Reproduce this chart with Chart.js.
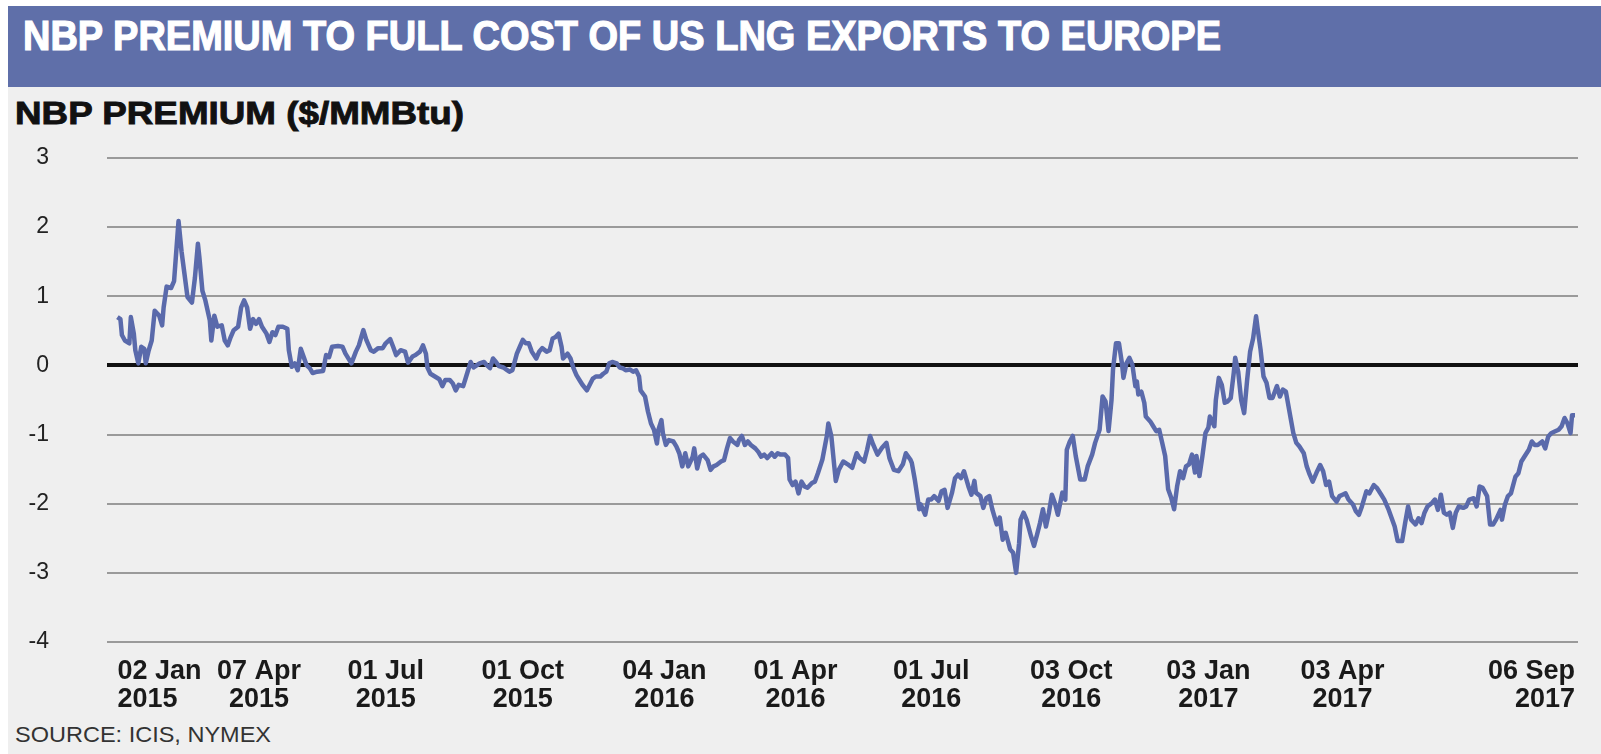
<!DOCTYPE html>
<html>
<head>
<meta charset="utf-8">
<script src="https://cdn.jsdelivr.net/npm/chart.js@4.4.1/dist/chart.umd.min.js"></script>
<style>
  body { margin: 0; background: #fff; width: 1601px; height: 754px; overflow: hidden; font-family: "Liberation Sans", Arial, sans-serif; }
  #panel { position: absolute; left: 8px; top: 6px; width: 1593px; height: 748px; background: #efefef; }
  #band { position: absolute; left: 8px; top: 6px; width: 1593px; height: 81px; background: #5f6fa9; }
  .fit { position: absolute; white-space: nowrap; line-height: 1; transform-origin: 0 0; }
  #title { left: 23px; top: 15px; font-size: 42px; font-weight: bold; color: #fff; -webkit-text-stroke: 1.2px #fff; }
  #ytitle { left: 15px; top: 97px; font-size: 32px; font-weight: bold; color: #111; -webkit-text-stroke: 0.9px #111; }
  #source { left: 15px; top: 724px; font-size: 22px; color: #333; }
  #chart { position: absolute; left: 0; top: 0; }
</style>
</head>
<body>
<div id="panel"></div>
<div id="band"></div>
<div id="title" class="fit" data-w="1198">NBP PREMIUM TO FULL COST OF US LNG EXPORTS TO EUROPE</div>
<div id="ytitle" class="fit" data-w="449">NBP PREMIUM ($/MMBtu)</div>
<div id="source" class="fit" data-w="256">SOURCE: ICIS, NYMEX</div>
<canvas id="chart" width="1601" height="754"></canvas>

<script>
/* ---------------- DATA ---------------- */
// days after 02 Jan 2015
const days = [
  0,2,3,5,8,9,11,12,14,16,18,19,21,23,25,28,30,31,33,36,38,39,41,43,45,47,50,52,54,55,
  57,59,62,63,65,67,70,72,74,76,78,81,83,85,87,89,91,93,95,97,100,102,104,106,108,111,114,115,117,119,
  121,123,125,127,129,131,134,138,140,142,144,148,151,153,
  157,160,162,165,167,170,172,175,178,180,183,185,187,190,193,195,198,200,203,205,
  207,208,210,213,216,218,220,223,225,227,229,232,234,237,239,241,243,246,248,250,
  252,254,256,259,261,263,265,268,270,272,274,276,278,281,283,285,288,290,292,294,
  296,298,299,302,304,306,308,310,312,315,
  319,321,324,326,328,330,332,335,337,339,341,344,346,348,350,351,354,356,358,360,
  362,363,365,366,368,370,373,375,377,379,381,383,386,387,389,391,393,396,398,400,
  402,405,407,409,411,413,416,417,419,421,423,425,428,430,432,434,436,439,441,443,
  445,448,450,451,453,455,457,459,461,463,466,468,470,
  473,476,477,479,481,482,484,487,490,493,496,498,501,503,505,507,510,513,516,518,
  521,524,527,529,532,533,535,538,539,542,544,546,548,551,553,555,557,560,562,564,
  566,568,571,573,575,576,579,581,583,585,587,590,592,594,596,599,601,603,605,606,
  608,610,613,615,617,619,621,623,625,627,629,631,
  634,636,637,639,641,643,646,649,651,654,656,659,661,663,665,667,668,670,672,674,
  675,677,679,681,683,684,685,687,689,690,693,695,697,699,701,703,705,707,709,711,
  713,715,717,719,721,723,724,726,728,730,732,733,736,737,739,741,743,745,747,749,
  750,752,754,756,758,760,762,764,765,767,769,771,773,775,778,780,782,784,787,789,791,
  793,796,798,800,802,805,807,809,811,813,815,818,820,822,824,826,829,831,833,835,
  838,840,843,845,848,850,853,855,857,859,862,864,866,868,871,873,875,877,879,882,
  884,886,888,890,892,894,896,898,900,903,905,907,910,912,914,916,919,921,923,925,
  928,929,931,933,935,938,940,942,944,947,949,951,953,956,958,960,962,964,967,969,
  971,973,975,976,978
];

// NBP premium, $/MMBtu
const premium = [
  0.70,0.67,0.44,0.36,0.32,0.70,0.46,0.22,0.03,0.27,0.24,0.03,0.22,0.36,0.79,0.72,0.58,0.84,1.14,1.12,
  1.22,1.51,2.09,1.65,1.32,0.99,0.91,1.27,1.76,1.56,1.08,0.94,0.65,0.36,0.72,0.56,0.58,0.36,0.29,0.41,
  0.51,0.56,0.84,0.94,0.84,0.53,0.67,0.60,0.67,0.56,0.46,0.34,0.48,0.44,0.56,0.56,0.53,0.22,-0.02,0.03,
  -0.07,0.24,0.12,0.00,-0.04,-0.11,-0.09,-0.08,0.15,0.12,0.27,0.28,0.27,0.17,
  0.03,0.20,0.29,0.51,0.37,0.22,0.20,0.25,0.25,0.32,0.38,0.27,0.15,0.22,0.20,0.04,0.13,0.15,0.20,0.29,
  0.17,-0.03,-0.12,-0.16,-0.20,-0.30,-0.21,-0.21,-0.26,-0.36,-0.28,-0.30,-0.16,0.05,-0.03,0.00,0.03,0.05,0.00,-0.04,
  0.10,0.05,-0.01,-0.03,-0.06,-0.09,-0.07,0.17,0.27,0.37,0.32,0.32,0.20,0.10,0.20,0.25,0.20,0.22,0.39,0.41,
  0.46,0.27,0.10,0.17,0.10,-0.04,-0.14,-0.21,-0.28,-0.36,
  -0.19,-0.16,-0.16,-0.12,-0.09,0.03,0.05,0.03,-0.03,-0.04,-0.07,-0.06,-0.09,-0.07,-0.16,-0.36,-0.45,-0.67,-0.84,-0.93,
  -1.13,-0.93,-0.79,-0.98,-1.15,-1.08,-1.10,-1.17,-1.27,-1.46,-1.27,-1.46,-1.32,-1.20,-1.49,-1.32,-1.29,-1.37,-1.51,-1.46,
  -1.44,-1.39,-1.37,-1.20,-1.05,-1.10,-1.15,-1.08,-1.02,-1.15,-1.10,-1.15,-1.20,-1.25,-1.32,-1.29,-1.34,-1.27,-1.32,-1.27,
  -1.29,-1.29,-1.34,-1.65,-1.73,-1.68,-1.85,-1.68,-1.75,-1.77,-1.70,-1.68,-1.56,
  -1.36,-1.02,-0.84,-1.02,-1.46,-1.67,-1.51,-1.39,-1.43,-1.48,-1.27,-1.34,-1.39,-1.22,-1.02,-1.14,-1.29,-1.19,-1.12,-1.34,
  -1.51,-1.53,-1.43,-1.27,-1.36,-1.41,-1.65,-2.08,-2.01,-2.16,-1.94,-1.94,-1.89,-1.96,-1.82,-1.80,-2.06,-1.84,-1.63,-1.58,
  -1.63,-1.53,-1.75,-1.87,-1.67,-1.84,-1.89,-2.06,-1.92,-1.89,-2.08,-2.30,-2.20,-2.52,-2.42,-2.66,-2.71,-3.00,-2.57,-2.23,
  -2.13,-2.23,-2.47,-2.61,-2.45,-2.28,-2.08,-2.33,-2.13,-1.87,-1.99,-2.16,
  -1.84,-1.94,-1.22,-1.10,-1.02,-1.31,-1.65,-1.65,-1.46,-1.29,-1.12,-0.93,-0.45,-0.52,-0.95,-0.50,-0.06,0.32,0.32,0.03,
  -0.18,0.03,0.11,0.01,-0.30,-0.23,-0.42,-0.38,-0.54,-0.74,-0.81,-0.88,-0.95,-0.93,-1.12,-1.31,-1.79,-1.91,-2.08,-1.75,
  -1.53,-1.63,-1.46,-1.43,-1.29,-1.55,-1.31,-1.60,-1.31,-0.98,-0.90,-0.74,-0.88,-0.50,-0.18,-0.28,-0.54,-0.52,-0.47,-0.11,
  0.11,-0.09,-0.50,-0.69,-0.21,0.20,0.39,0.71,0.54,0.23,-0.16,-0.25,-0.47,-0.47,-0.30,-0.45,-0.35,-0.38,-0.74,-0.98,-1.12,
  -1.17,-1.27,-1.46,-1.58,-1.68,-1.53,-1.44,-1.53,-1.73,-1.68,-1.89,-1.97,-1.89,-1.87,-1.85,-1.94,-2.01,-2.11,-2.16,-2.04,
  -1.82,-1.85,-1.73,-1.77,-1.87,-1.94,-2.09,-2.21,-2.33,-2.54,-2.54,-2.28,-2.04,-2.23,-2.30,-2.21,-2.28,-2.13,-2.04,-1.99,
  -1.94,-2.09,-1.87,-2.13,-2.16,-2.13,-2.35,-2.13,-2.04,-2.06,-2.04,-1.94,-1.92,-2.04,-1.75,-1.77,-1.89,-2.30,-2.30,-2.23,
  -2.09,-2.23,-2.01,-1.89,-1.85,-1.61,-1.56,-1.39,-1.32,-1.22,-1.10,-1.15,-1.15,-1.10,-1.20,-1.03,-0.98,-0.96,-0.93,-0.88,
  -0.76,-0.84,-0.98,-0.72,-0.72
];

// x axis labels and the day each one sits on
const tickDays = [0, 95, 180, 272, 367, 455, 546, 640, 732, 822, 978];
const tickLabels = [
  ["02 Jan", "2015"], ["07 Apr", "2015"], ["01 Jul", "2015"], ["01 Oct", "2015"],
  ["04 Jan", "2016"], ["01 Apr", "2016"], ["01 Jul", "2016"], ["03 Oct", "2016"],
  ["03 Jan", "2017"], ["03 Apr", "2017"], ["06 Sep", "2017"]
];

const yMin = -4, yMax = 3;

/* ---------------- TEXT FIT ---------------- */
document.querySelectorAll(".fit").forEach(el => {
  const w = el.getBoundingClientRect().width;
  el.style.transform = `scaleX(${el.dataset.w / w})`;
});

/* ---------------- CHART ---------------- */
const LINE = "#5a6aab";

new Chart(document.getElementById("chart"), {
  type: "line",
  data: {
    datasets: [{
      data: days.map((d, i) => ({ x: d, y: premium[i] })),
      borderColor: LINE,
      borderWidth: 4.5,
      pointRadius: 0,
      tension: 0,
      borderJoinStyle: "round"
    }]
  },
  options: {
    responsive: false,
    animation: false,
    layout: { padding: { top: 158, right: 23, bottom: 42, left: 0 } },
    plugins: { legend: { display: false }, tooltip: { enabled: false } },
    scales: {
      x: {
        type: "linear",
        min: -7,
        max: 980,
        grid: { display: false },
        border: { display: false },
        afterBuildTicks: s => { s.ticks = tickDays.map(v => ({ value: v })); },
        afterFit: s => { s.height = 70; },
        ticks: {
          align: "inner",
          autoSkip: false,
          maxRotation: 0,
          padding: 7,
          color: "#1a1a1a",
          font: { family: "'Liberation Sans', Arial, sans-serif", size: 27, weight: "bold", lineHeight: 1.05 },
          callback: (v, i) => tickLabels[i]
        }
      },
      y: {
        min: yMin,
        max: yMax,
        afterFit: s => { s.width = 107; },
        border: { display: false },
        grid: {
          drawTicks: false,
          color: c => c.tick.value === 0 ? "#111" : "#9a9a9a",
          lineWidth: c => c.tick.value === 0 ? 4 : 2
        },
        ticks: {
          stepSize: 1,
          padding: 58,
          color: "#222",
          font: { family: "'Liberation Sans', Arial, sans-serif", size: 23 },
          callback: v => String(v)
        }
      }
    }
  }
});
</script>
</body>
</html>
